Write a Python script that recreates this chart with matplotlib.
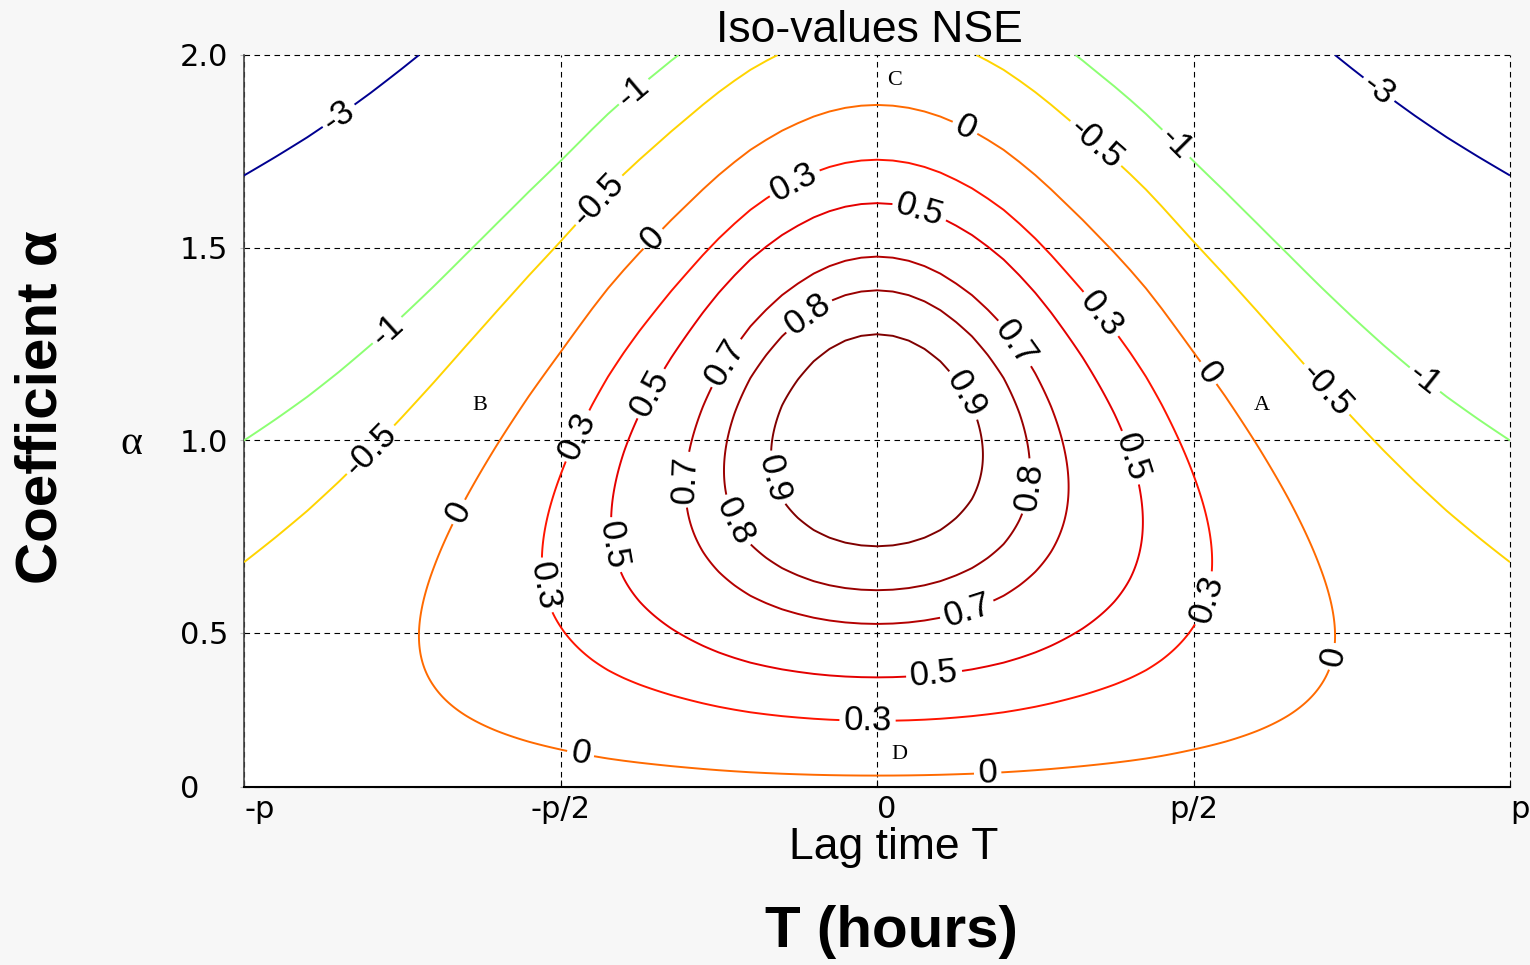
import numpy as np
import matplotlib
matplotlib.use("Agg")
import matplotlib.pyplot as plt

# ---- data ----
# lag time as a fraction of p (symmetric about 0), and the normalised
# lagged correlation of the signal read from the iso-lines
lag_frac_half = [0.000, 0.025, 0.050, 0.075, 0.100, 0.125, 0.150, 0.175, 0.200, 0.225,
                 0.250, 0.275, 0.300, 0.325, 0.350, 0.375, 0.400, 0.425, 0.450, 0.475,
                 0.50, 0.55, 0.60, 0.65, 0.70, 0.75, 0.80, 0.85, 0.90, 0.95, 1.00]
rho_half = [1.0000, 0.9991, 0.9965, 0.9921, 0.986, 0.978, 0.969, 0.958, 0.946, 0.9315,
            0.916, 0.899, 0.881, 0.863, 0.844, 0.825, 0.805, 0.784, 0.761, 0.737,
            0.713, 0.666, 0.617, 0.567, 0.516, 0.466, 0.417, 0.370, 0.325, 0.283, 0.242]
energy_ratio = 1.32          # mean-square / variance of the observed series
levels = [-3, -1, -0.5, 0, 0.3, 0.5, 0.7, 0.8, 0.9]
level_text = ['-3', '-1', '-0.5', '0', '0.3', '0.5', '0.7', '0.8', '0.9']
level_colors = ['#000090', '#8cff73', '#ffd400', '#ff6a00', '#ff1400', '#e40000',
                '#b40000', '#990000', '#800000']
x_ticks = [-1.0, -0.5, 0.0, 0.5, 1.0]
x_tick_labels = ['-p', '-p/2', '0', 'p/2', 'p']
y_ticks = [0.1, 0.5, 1.0, 1.5, 2.0]
y_tick_labels = ['0', '0.5', '1.0', '1.5', '2.0']
point_names = ['A', 'B', 'C', 'D']
point_x = [0.608, -0.628, 0.028, 0.035]
point_y = [1.089, 1.089, 1.935, 0.185]

# ---- build the field ----
lag = np.array([-v for v in lag_frac_half[:0:-1]] + lag_frac_half)
rho = np.array(rho_half[:0:-1] + rho_half)
alpha = np.linspace(0.1, 2.0, 500)
L, A = np.meshgrid(lag, alpha)
R = np.tile(rho, (alpha.size, 1))
nse = 1 - energy_ratio * (A ** 2 + 1) + 2 * energy_ratio * A * R

plt.rcParams['font.family'] = ['Liberation Sans', 'DejaVu Sans']
fig = plt.figure(figsize=(15.3, 9.65), dpi=100, facecolor='#f7f7f7')
ax = fig.add_axes([244 / 1530, 1 - 787 / 965, (1510 - 244) / 1530, (787 - 55) / 965])
ax.set_facecolor('white')

cs = ax.contour(L, A, nse, levels=levels, colors=level_colors,
                linewidths=1.4, zorder=3)

label_pos = [
    (-0.837, 1.81), (0.786, 1.896),
    (-0.380, 1.896), (-0.773, 1.284), (0.465, 1.758), (0.860, 1.146),
    (-0.430, 1.609), (-0.789, 0.958), (0.339, 1.758), (0.699, 1.115),
    (0.135, 1.797), (-0.359, 1.531), (0.517, 1.167), (-0.656, 0.81),
    (0.723, 0.4375), (-0.47, 0.172), (0.175, 0.13),
    (-0.13, 1.667), (0.344, 1.315), (-0.465, 1.005), (-0.536, 0.62),
    (0.525, 0.586), (-0.015, 0.263),
    (0.064, 1.576), (-0.356, 1.12), (0.391, 0.95), (-0.43, 0.724), (0.091, 0.38),
    (-0.238, 1.2), (0.212, 1.245), (-0.304, 0.898), (0.143, 0.555),
    (-0.104, 1.315), (0.241, 0.88), (-0.236, 0.78),
    (0.127, 1.107), (-0.170, 0.898),
]
fmt = {lv: t for lv, t in zip(cs.levels, level_text)}
ax.clabel(cs, cs.levels, manual=label_pos, inline=True, inline_spacing=4,
          fontsize=25, fmt=fmt, colors='black')

ax.set_xlim(-1, 1)
ax.set_ylim(0.1, 2.0)
ax.set_xticks(x_ticks)
ax.set_xticklabels(x_tick_labels, fontsize=22, family='DejaVu Sans')
ax.set_yticks(y_ticks)
ax.set_yticklabels(y_tick_labels, fontsize=22, family='DejaVu Sans')
for lab, ha in zip(ax.get_xticklabels(), ['left', 'center', 'left', 'center', 'left']):
    lab.set_ha(ha)
for lab in ax.get_yticklabels():
    lab.set_ha('left')
ax.tick_params(axis='x', direction='in', length=5, pad=6, colors='black')
ax.tick_params(axis='y', direction='out', length=3, pad=43, color='#bbbbbb', labelcolor='black')

ax.grid(True, linestyle=(0, (5, 4)), color='black', linewidth=0.8)
ax.set_axisbelow(True)
for gl in ax.get_xgridlines() + ax.get_ygridlines():
    gl.set_clip_on(False)
for s in ['top', 'right']:
    ax.spines[s].set_visible(False)
ax.spines['left'].set_color('#444444')
ax.spines['left'].set_linewidth(1.2)
ax.spines['bottom'].set_color('black')
ax.spines['bottom'].set_linewidth(1.5)

for name, px, py in zip(point_names, point_x, point_y):
    ax.text(px, py, name, family=['Liberation Serif', 'DejaVu Serif'], fontsize=16,
            ha='center', va='center', zorder=5)

fig.text(869 / 1530, 1 - 30 / 965, 'Iso-values NSE', fontsize=32, ha='center', va='center')
fig.text(894 / 1530, 1 - 847 / 965, 'Lag time T', fontsize=32, ha='center', va='center')
fig.text(891 / 1530, 1 - 932 / 965, 'T (hours)', fontsize=42, fontweight='bold',
         ha='center', va='center')
fig.text(42 / 1530, 1 - 407 / 965, 'Coefficient α', fontsize=42, fontweight='bold',
         rotation=90, ha='center', va='center')
fig.text(131 / 1530, 1 - 444 / 965, 'α', family=['Liberation Serif', 'DejaVu Serif'],
         fontsize=30, ha='center', va='center')

fig.savefig('out.png', dpi=100, facecolor=fig.get_facecolor())
